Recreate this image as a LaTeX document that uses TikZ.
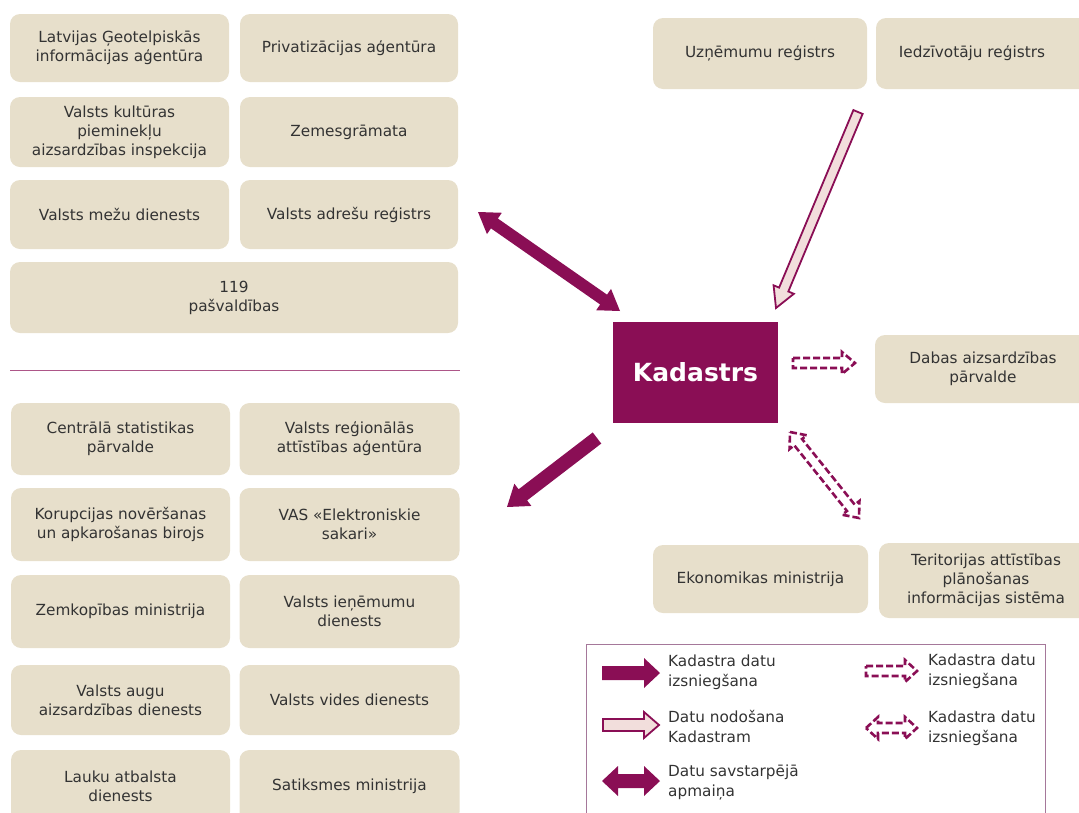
\documentclass[tikz,border=0pt]{standalone}
\usepackage{fontspec}
\setmainfont{DejaVu Sans}
\usetikzlibrary{calc}
\definecolor{kpurple}{HTML}{8A0E55}
\definecolor{kbeige}{HTML}{E7DFCB}
\definecolor{ktext}{HTML}{333333}
\definecolor{kpale}{HTML}{F2DEDC}
\definecolor{kframe}{HTML}{A5789A}
\newcommand{\kSingleArrow}[6]{%
 \coordinate (kC) at ($(#3)!#6!(#2)$);
 \path[#1] ($(#2)!#4!90:(#3)$) -- ($(kC)!#4!90:(#3)$) -- ($(kC)!#5!90:(#3)$) -- (#3) -- ($(kC)!#5!-90:(#3)$) -- ($(kC)!#4!-90:(#3)$) -- ($(#2)!#4!-90:(#3)$) -- cycle;}
\newcommand{\kDoubleArrow}[6]{%
 \coordinate (kCa) at ($(#2)!#6!(#3)$);
 \coordinate (kCb) at ($(#3)!#6!(#2)$);
 \path[#1] (#2) -- ($(kCa)!#5!90:(#3)$) -- ($(kCa)!#4!90:(#3)$) -- ($(kCb)!#4!90:(#3)$) -- ($(kCb)!#5!90:(#3)$) -- (#3) -- ($(kCb)!#5!-90:(#3)$) -- ($(kCb)!#4!-90:(#3)$) -- ($(kCa)!#4!-90:(#3)$) -- ($(kCa)!#5!-90:(#3)$) -- cycle;}
\begin{document}
\begin{tikzpicture}[x=1pt,y=-1pt,
 orgbox/.style={fill=kbeige, rounded corners=10pt, text=ktext, align=center, font=\fontsize{15.3}{19}\selectfont, inner sep=0pt},
 legtext/.style={anchor=west, align=left, text=ktext, font=\fontsize{15.3}{20}\selectfont, inner sep=0pt},
 solidar/.style={fill=kpurple},
 hollowar/.style={draw=kpurple, line width=1.8pt, fill=kpale, line join=miter},
 dashar/.style={draw=kpurple, line width=2.6pt, dash pattern=on 7pt off 3pt, fill=white}]
\useasboundingbox (0,0) rectangle (1079,812);
\clip (0,0) rectangle (1079,812);
% upper left group
\node[orgbox, minimum width=219pt, minimum height=68pt] (lgia) at (119.5,48) {Latvijas Ģeotelpiskās\\informācijas aģentūra};
\node[orgbox, minimum width=218pt, minimum height=68pt] (priv) at (349,48) {Privatizācijas aģentūra};
\node[orgbox, minimum width=219pt, minimum height=70pt] (vkpai) at (119.5,132) {Valsts kultūras\\pieminekļu\\aizsardzības inspekcija};
\node[orgbox, minimum width=218pt, minimum height=70pt] (zemes) at (349,132) {Zemesgrāmata};
\node[orgbox, minimum width=219pt, minimum height=69pt] (vmd) at (119.5,214.5) {Valsts mežu dienests};
\node[orgbox, minimum width=218pt, minimum height=69pt] (var) at (349,214.5) {Valsts adrešu reģistrs};
\node[orgbox, minimum width=448pt, minimum height=71pt] (pasv) at (234,297.5) {119\\pašvaldības};
% separator
\coordinate (sepL) at (10,370);
\coordinate (sepR) at (460,370);
\draw[kpurple!70, line width=0.8pt] (sepL) -- (sepR);
% lower left group
\node[orgbox, minimum width=219pt, minimum height=72pt] (csp) at (120.5,439) {Centrālā statistikas\\pārvalde};
\node[orgbox, minimum width=220pt, minimum height=72pt] (vraa) at (349.5,439) {Valsts reģionālās\\attīstības aģentūra};
\node[orgbox, minimum width=219pt, minimum height=73pt] (knab) at (120.5,524.5) {Korupcijas novēršanas\\un apkarošanas birojs};
\node[orgbox, minimum width=220pt, minimum height=73pt] (vas) at (349.5,524.5) {VAS «Elektroniskie\\sakari»};
\node[orgbox, minimum width=219pt, minimum height=73pt] (zm) at (120.5,611.5) {Zemkopības ministrija};
\node[orgbox, minimum width=220pt, minimum height=73pt] (vid) at (349.5,611.5) {Valsts ieņēmumu\\dienests};
\node[orgbox, minimum width=219pt, minimum height=70pt] (vaad) at (120.5,700) {Valsts augu\\aizsardzības dienests};
\node[orgbox, minimum width=220pt, minimum height=70pt] (vvd) at (349.5,700) {Valsts vides dienests};
\node[orgbox, minimum width=219pt, minimum height=72pt] (lad) at (120.5,786) {Lauku atbalsta\\dienests};
\node[orgbox, minimum width=220pt, minimum height=72pt] (sm) at (349.5,786) {Satiksmes ministrija};
% right boxes
\node[orgbox, minimum width=214pt, minimum height=71pt] (ur) at (760,53.5) {Uzņēmumu reģistrs};
\node[orgbox, minimum width=214pt, minimum height=71pt] (ir) at (983,53.5) {Iedzīvotāju reģistrs\hspace*{22pt}};
\node[orgbox, minimum width=216pt, minimum height=68pt] (dap) at (983,369) {Dabas aizsardzības\\pārvalde};
\node[orgbox, minimum width=215pt, minimum height=68pt] (em) at (760.5,579) {Ekonomikas ministrija};
\node[orgbox, minimum width=214pt, minimum height=75pt] (tapis) at (986,580.5) {Teritorijas attīstības\\plānošanas\\informācijas sistēma};
% Kadastrs
\node[fill=kpurple, minimum width=165pt, minimum height=101pt, text=white, inner sep=0pt, font=\bfseries\fontsize{25}{30}\selectfont] (kad) at (695.5,372.5) {Kadastrs};
% main arrows
\coordinate (a1s) at (478,212);
\coordinate (a1e) at (620,311);
\kDoubleArrow{solidar}{a1s}{a1e}{6pt}{13pt}{20pt}
\coordinate (a2s) at (858,112);
\coordinate (a2e) at (776,308);
\kSingleArrow{hollowar}{a2s}{a2e}{5pt}{11pt}{20pt}
\coordinate (a3s) at (597,438);
\coordinate (a3e) at (507,507);
\kSingleArrow{solidar}{a3s}{a3e}{7pt}{14pt}{20pt}
\coordinate (a4s) at (793,363);
\coordinate (a4e) at (855,363);
\kSingleArrow{dashar}{a4s}{a4e}{5pt}{11pt}{13pt}
\coordinate (a5s) at (790,432);
\coordinate (a5e) at (859,518);
\kDoubleArrow{dashar}{a5s}{a5e}{5pt}{11pt}{13pt}
% legend
\node[draw=kframe, line width=1pt, minimum width=459pt, minimum height=190pt, anchor=north west, inner sep=0pt] (legend) at (586,644) {};
\coordinate (l1s) at (602,673);
\coordinate (l1e) at (660,673);
\kSingleArrow{solidar}{l1s}{l1e}{7pt}{15pt}{16pt}
\node[legtext] (l1t) at (668,672) {Kadastra datu\\izsniegšana};
\coordinate (l2s) at (603,725);
\coordinate (l2e) at (659,725);
\kSingleArrow{hollowar}{l2s}{l2e}{6pt}{13pt}{15pt}
\node[legtext] (l2t) at (668,726) {Datu nodošana\\Kadastram};
\coordinate (l3s) at (602,781);
\coordinate (l3e) at (660,781);
\kDoubleArrow{solidar}{l3s}{l3e}{7pt}{15pt}{16pt}
\node[legtext] (l3t) at (668,782) {Datu savstarpējā\\apmaiņa};
\coordinate (l4s) at (866,671);
\coordinate (l4e) at (917,671);
\kSingleArrow{dashar}{l4s}{l4e}{5pt}{11pt}{12pt}
\node[legtext] (l4t) at (928,671) {Kadastra datu\\izsniegšana};
\coordinate (l5s) at (866,728);
\coordinate (l5e) at (917,728);
\kDoubleArrow{dashar}{l5s}{l5e}{5pt}{11pt}{12pt}
\node[legtext] (l5t) at (928,728) {Kadastra datu\\izsniegšana};
\end{tikzpicture}
\end{document}
